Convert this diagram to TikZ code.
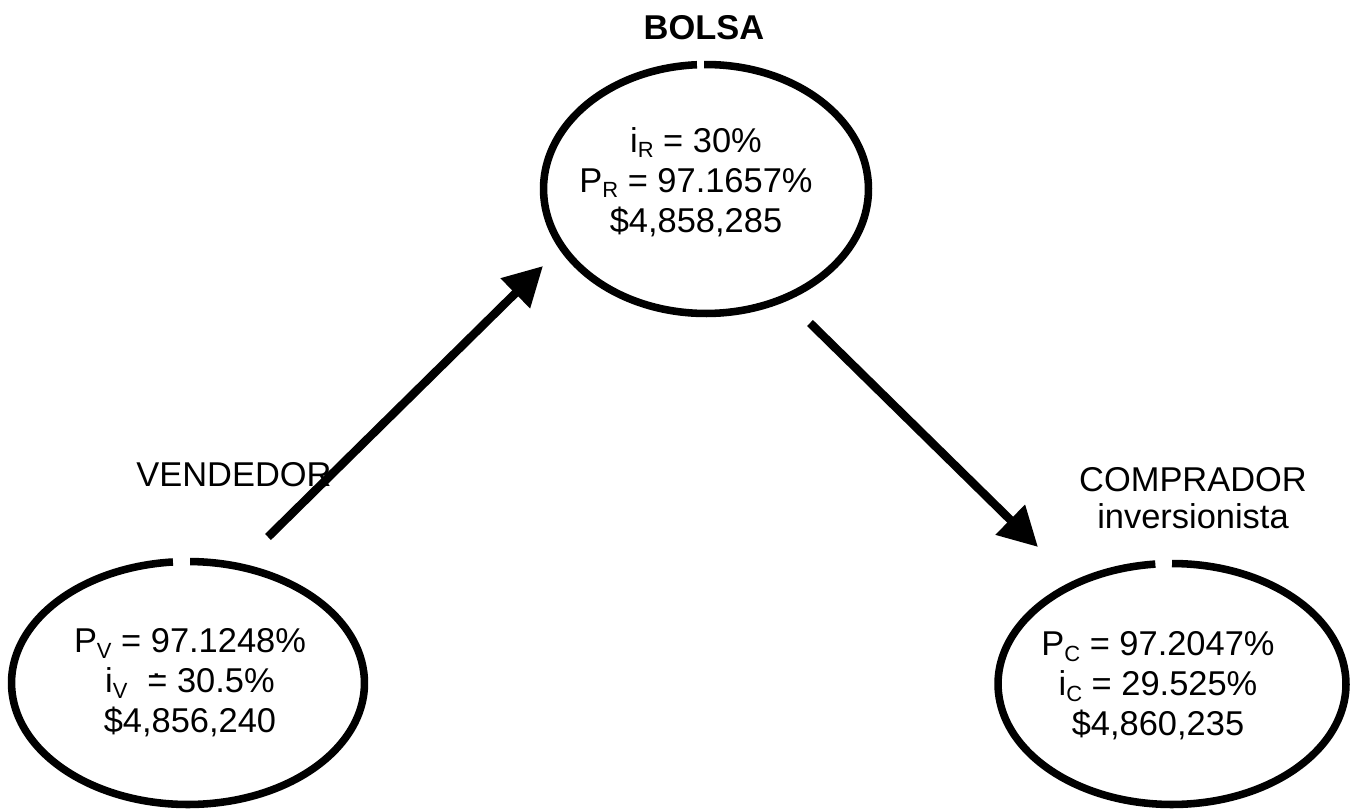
\documentclass[tikz,border=0pt]{standalone}
\usepackage{fontspec}
\setmainfont{Liberation Sans}
\usetikzlibrary{arrows.meta}
\tikzset{
  ring/.style={line width=4.3pt},
  flow/.style={line width=4.8pt,-{Triangle[length=0.78cm,width=0.8cm]}},
  info/.style={align=center,inner sep=0pt,font=\fontsize{19.6}{22.8}\selectfont},
  tag/.style={align=center,inner sep=0pt,font=\fontsize{19.6}{21}\selectfont}
}
% subindice
\newcommand{\sub}[1]{\raisebox{-0.16em}[0pt][0pt]{\fontsize{12.5}{12.5}\selectfont #1}}
% anillo con hueco arriba: centro, rx, ry, angulo inicio, angulo fin
\newcommand{\anillo}[5]{%
  \draw[ring] (#1) ++(#4:#2 and #3) arc[start angle=#4,end angle=#5,x radius=#2,y radius=#3];}

\begin{document}
\begin{tikzpicture}[x=0.02cm,y=-0.02cm]
  \useasboundingbox (0,0) rectangle (1359,811);
  % Bolsa
  \coordinate (bolsaC) at (706,189);
  \anillo{bolsaC}{3.25cm}{2.49cm}{93.2}{450.7}
  \node[tag,font=\fontsize{19.6}{21}\selectfont\bfseries] (bolsaT) at (704,28) {BOLSA};
  \node[info] (bolsa) at (696,182) {i\sub{R} = 30\%\\P\sub{R} = 97.1657\%\\\$4,858,285};
  % Vendedor
  \coordinate (vendC) at (188,683);
  \anillo{vendC}{3.53cm}{2.43cm}{94.9}{449.3}
  \node[tag] (vendT) at (234,475) {VENDEDOR};
  \node[info] (vend) at (190,683) {P\sub{V} = 97.1248\%\\i\sub{V}\kern0.3em\ \rlap{\raisebox{0.45em}[0pt][0pt]{\kern0.12em.}}= 30.5\%\\\$4,856,240};
  % Comprador
  \coordinate (compC) at (1172,684);
  \anillo{compC}{3.48cm}{2.41cm}{95.5}{450}
  \node[tag] (compT) at (1193,498) {COMPRADOR\\inversionista};
  \node[info] (comp) at (1158,686) {P\sub{C} = 97.2047\%\\i\sub{C} = 29.525\%\\\$4,860,235};
  % Flujo
  \coordinate (vendS) at (268,537);
  \coordinate (bolsaE) at (543,266);
  \coordinate (bolsaS) at (810,323);
  \coordinate (compE) at (1038,547);
  \draw[flow] (vendS) -- (bolsaE);
  \draw[flow] (bolsaS) -- (compE);
\end{tikzpicture}
\end{document}
